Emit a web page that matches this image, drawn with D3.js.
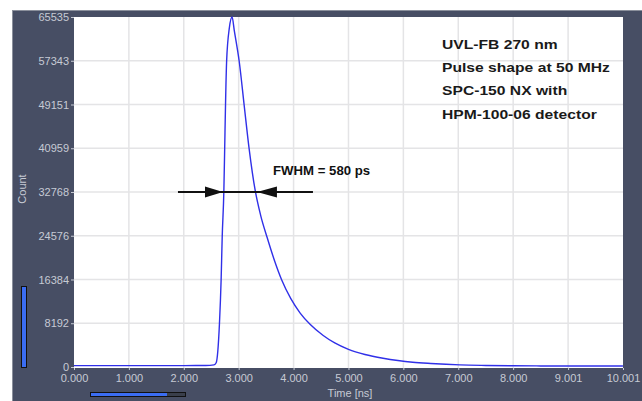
<!DOCTYPE html>
<html><head><meta charset="utf-8">
<script src="https://cdn.jsdelivr.net/npm/d3@7"></script>
<style>
html,body{margin:0;padding:0;background:#fff;}
svg{display:block;font-family:"Liberation Sans",Arial,sans-serif;}
</style></head>
<body>
<svg id="c" width="642" height="401"></svg>
<script>
// ---- data ----
const times  = [0.00,0.50,1.00,1.50,2.00,2.40,2.55,2.59,2.62,2.65,2.68,2.70,2.73,2.745,2.76,2.78,2.83,2.88,2.92,3.01,3.10,3.19,3.30,3.40,3.52,3.65,3.78,3.95,4.12,4.30,4.54,4.75,5.00,5.30,5.63,5.90,6.17,6.50,7.03,7.50,8.00,8.50,9.00,9.50,10.00];
const counts = [250,250,260,250,260,280,400,800,3000,8200,16300,24400,33000,40900,49000,57200,63500,65535,63000,57200,49000,40900,33100,28400,24200,20000,16400,12800,10100,8000,5900,4500,3300,2350,1650,1220,900,660,390,290,230,200,190,180,180];
const xTickVals   = [0,1,2,3,4,5,6,7,8,9.001,10.001];
const xTickLabels = ["0.000","1.000","2.000","3.000","4.000","5.000","6.000","7.000","8.000","9.001","10.001"];
const yTickVals   = [0,8192,16384,24576,32768,40959,49151,57343,65535];
const annotLines  = ["UVL-FB 270 nm","Pulse shape at 50 MHz","SPC-150 NX with","HPM-100-06 detector"];
const fwhmText = "FWHM = 580 ps";
const fwhmLeft = 2.714, fwhmRight = 3.333, fwhmLevel = 32768;

const svg = d3.select("#c");
const L=74, R=623, T=17, B=367;
const x = d3.scaleLinear().domain([0,10.001]).range([L,R]);
const y = d3.scaleLinear().domain([0,65535]).range([B,T]);

// dark frame
svg.append("rect").attr("x",12.5).attr("y",10.5).attr("width",642).attr("height",401)
  .attr("fill","#474e64").attr("stroke","#8b909c").attr("stroke-width",1);
// plot area
svg.append("rect").attr("x",L).attr("y",T).attr("width",R-L).attr("height",B-T+1).attr("fill","#fff");

// grid
const g = svg.append("g");
g.selectAll(".vg").data(xTickVals.slice(1,-1)).join("line")
  .attr("x1",d=>x(d)).attr("x2",d=>x(d)).attr("y1",T).attr("y2",B+1)
  .attr("stroke","#e4e4e6").attr("stroke-width",1.5);
g.selectAll(".hg").data(yTickVals.slice(1,-1)).join("line")
  .attr("x1",L).attr("x2",R).attr("y1",d=>y(d)).attr("y2",d=>y(d))
  .attr("stroke","#e4e4e6").attr("stroke-width",1.5);

// axes
const tickCol = "#c6cad4";
const yAxis = svg.append("g").attr("transform",`translate(${L},0)`)
  .call(d3.axisLeft(y).tickValues(yTickVals).tickFormat(d=>String(d)).tickSize(3).tickPadding(2));
const xAxis = svg.append("g").attr("transform",`translate(0,${B+1})`)
  .call(d3.axisBottom(x).tickValues(xTickVals).tickFormat((d,i)=>xTickLabels[i]).tickSize(2).tickPadding(4));
[yAxis,xAxis].forEach(a=>{
  a.select(".domain").remove();
  a.selectAll("line").attr("stroke",tickCol);
  a.selectAll("text").attr("fill",tickCol).style("font-size","11px").style("font-family","'Liberation Sans',Arial,sans-serif");
});

// axis titles
svg.append("text").attr("transform","translate(26,189) rotate(-90)").attr("text-anchor","middle")
  .attr("fill",tickCol).style("font-size","11px").text("Count");
svg.append("text").attr("x",350).attr("y",397).attr("text-anchor","middle")
  .attr("fill",tickCol).style("font-size","11px").text("Time [ns]");

// scrollbars
svg.append("rect").attr("x",21.5).attr("y",286.5).attr("width",5).attr("height",81)
  .attr("fill","#3b6df2").attr("stroke","#111").attr("stroke-width",1);
svg.append("rect").attr("x",90.5).attr("y",392.5).attr("width",95).attr("height",4)
  .attr("fill","#3a3f4b").attr("stroke","#111").attr("stroke-width",1);
svg.append("rect").attr("x",91).attr("y",393).attr("width",76).attr("height",3).attr("fill","#3b6df2");

// curve
const data = times.map((t,i)=>({t,c:counts[i]}));
svg.append("path").datum(data)
  .attr("fill","none").attr("stroke","#3030e8").attr("stroke-width",1.4)
  .attr("d",d3.line().x(d=>x(d.t)).y(d=>y(d.c)).curve(d3.curveMonotoneX));

// FWHM arrows
const ay = y(fwhmLevel);
svg.append("line").attr("x1",x(1.894)).attr("x2",x(4.353)).attr("y1",ay).attr("y2",ay)
  .attr("stroke","#111").attr("stroke-width",2);
const lt = x(fwhmLeft), rt = x(fwhmRight);
svg.append("path").attr("d",`M${lt},${ay}L${lt-18},${ay-5.5}L${lt-18},${ay+5.5}Z`).attr("fill","#111");
svg.append("path").attr("d",`M${rt},${ay}L${rt+20},${ay-5.5}L${rt+20},${ay+5.5}Z`).attr("fill","#111");
svg.append("text").attr("transform","translate(273,175) scale(1.1,1)").attr("fill","#111")
  .style("font-size","12px").style("font-weight","bold").text(fwhmText);

// annotation
svg.append("g").selectAll("text").data(annotLines).join("text")
  .attr("transform",(d,i)=>`translate(442,${49+i*23.2}) scale(1.16,1)`).attr("fill","#1a1a1a")
  .style("font-size","13.5px").style("font-weight","bold").text(d=>d);
</script>
</body></html>
